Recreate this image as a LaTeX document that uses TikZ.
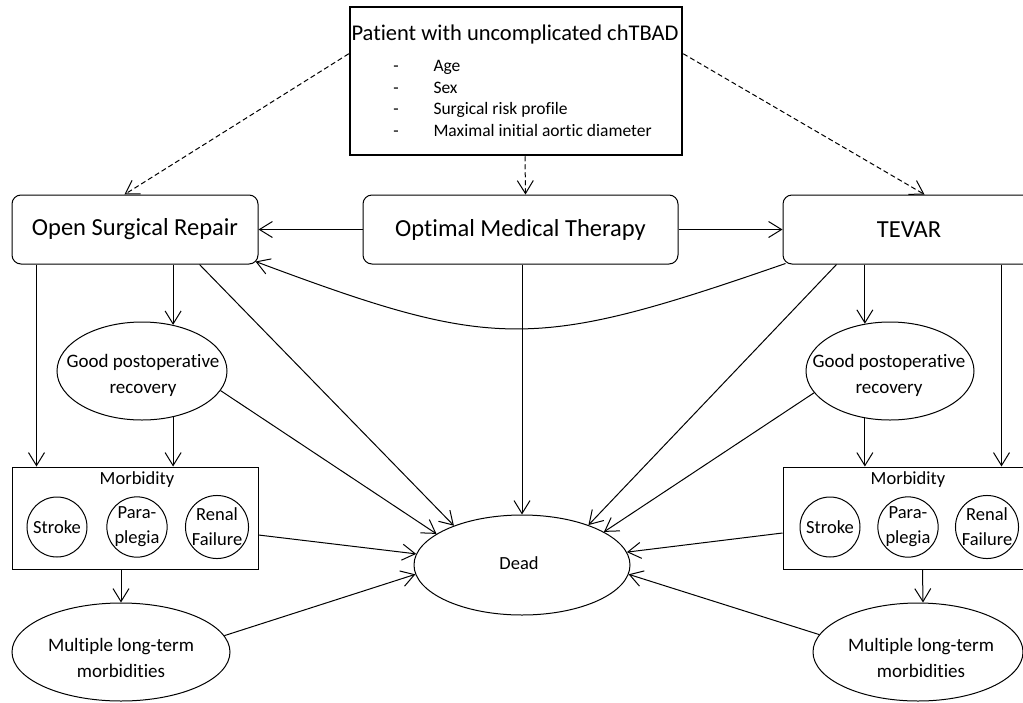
\documentclass[tikz,border=0pt]{standalone}
\usepackage{fontspec}
\setmainfont{Carlito}[Ligatures=NoCommon]
\usetikzlibrary{arrows.meta,shapes.geometric,calc}
\begin{document}
\begin{tikzpicture}[x=1pt,y=-1pt,line width=1pt,
  arr/.style={-{Straight Barb[length=13pt,width=16pt]}},
  dsh/.style={arr,dash pattern=on 5pt off 3pt},
  rbox/.style={draw,rounded corners=9pt,minimum height=69pt,inner sep=0pt,font=\fontsize{24.5}{28}\selectfont},
  sqbox/.style={draw,rectangle,minimum height=102pt,inner sep=0pt},
  ell/.style={draw,ellipse,inner sep=0pt},
  circ/.style={draw,circle,minimum size=60pt,inner sep=0pt,align=center,font=\fontsize{18.5}{25}\selectfont},
  smalltxt/.style={inner sep=0pt,align=center,font=\fontsize{18.5}{26}\selectfont},
  itemtxt/.style={inner sep=0pt,anchor=base west,font=\fontsize{17.5}{20}\selectfont},
  dashtxt/.style={inner sep=0pt,anchor=base,font=\fontsize{17.5}{20}\selectfont}]
\useasboundingbox (0,0) rectangle (1023,702);
\fill[white] (0,0) rectangle (1023,702);
\clip (0,0) rectangle (1023,702);

% top box
\node[draw,line width=2.5pt,minimum width=332pt,minimum height=148pt,inner sep=0pt] (top) at (516,81) {};
\node[inner sep=0pt,font=\fontsize{22.5}{26}\selectfont] (title) at (515,34) {Patient with uncomplicated chTBAD};
\node[dashtxt] (d1) at (396,71) {-};
\node[dashtxt] (d2) at (396,93) {-};
\node[dashtxt] (d3) at (396,114) {-};
\node[dashtxt] (d4) at (396,136) {-};
\node[itemtxt] (i1) at (433,71) {Age};
\node[itemtxt] (i2) at (433,93) {Sex};
\node[itemtxt] (i3) at (433,114) {Surgical risk profile};
\node[itemtxt] (i4) at (433,136) {Maximal initial aortic diameter};

% treatment boxes
\node[rbox,minimum width=246pt] (osr) at (135,229.5) {Open Surgical Repair};
\node[rbox,minimum width=315pt] (omt) at (520.5,229.5) {Optimal Medical Therapy};
\node[rbox,minimum width=252pt] (tevar) at (909,229.5) {TEVAR};

% good postoperative recovery
\node[ell,minimum width=170pt,minimum height=98pt] (gl) at (142,371) {};
\node[smalltxt,font=\fontsize{19}{26}\selectfont] (glt) at (143,375) {Good postoperative\\recovery};
\node[ell,minimum width=168pt,minimum height=98pt] (gr) at (890,371) {};
\node[smalltxt,font=\fontsize{19}{26}\selectfont] (grt) at (889,375) {Good postoperative\\recovery};

% morbidity boxes
\node[sqbox,minimum width=246pt] (ml) at (135,518) {};
\node[smalltxt] (mlt) at (137,480) {Morbidity};
\node[circ] (sl) at (57,527) {Stroke};
\node[circ] (pl) at (137,527) {Para-\\plegia};
\node[circ] (rl) at (217,527) {Renal\\Failure};
\node[sqbox,minimum width=250pt] (mr) at (908,518) {};
\node[smalltxt] (mrt) at (908,480) {Morbidity};
\node[circ] (sr) at (830,527) {Stroke};
\node[circ] (pr) at (908,527) {Para-\\plegia};
\node[circ] (rr) at (987,527) {Renal\\Failure};

% multiple long-term morbidities
\node[ell,minimum width=218pt,minimum height=98pt] (ul) at (121,652) {};
\node[smalltxt,font=\fontsize{19}{26}\selectfont] (ult) at (121,658) {Multiple long-term\\morbidities};
\node[ell,minimum width=210pt,minimum height=98pt] (ur) at (918,652) {};
\node[smalltxt,font=\fontsize{19}{26}\selectfont] (urt) at (921,658) {Multiple long-term\\morbidities};

% dead
\node[ell,minimum width=216pt,minimum height=100pt] (dead) at (522,565) {};
\node[smalltxt] (deadt) at (519,563) {Dead};

% dashed arrows from top
\draw[dsh] ($(top.north west)+(0,48)$) -- ($(osr.north west)+(113,0)$);
\draw[dsh] ($(top.south)+(9,0)$) -- ($(omt.north)+(5,0)$);
\draw[dsh] ($(top.north east)+(0,48)$) -- ($(tevar.north west)+(142,0)$);

% from OMT
\draw[arr] (omt.west) -- (osr.east);
\draw[arr] (omt.east) -- (tevar.east -| tevar.west);
\draw[arr] (dead.north |- omt.south) -- (dead.north);

% TEVAR back to OSR
\draw[arr] ($(tevar.south west)+(3,-1)$) .. controls (533,351) and (495,351) .. ($(osr.south east)+(-3,-3)$);

% left side
\draw[arr] ($(osr.south west)+(25,0)$) -- ($(ml.north west)+(25,0)$);
\draw[arr] (gl.56 |- osr.south) -- (gl.56);
\draw[arr] (gl.-56) -- (gl.-56 |- ml.north);
\draw[arr] ($(osr.south west)+(188,0)$) -- (dead.150);
\draw[arr] (gl.-14) -- (dead.160);
\draw[arr] ($(ml.east)+(0,17)$) -- (dead.174);
\draw[arr] (ul.north |- ml.south) -- (ul.north);
\draw[arr] (ul.9) -- (dead.185);

% right side
\draw[arr] (gr.118 |- tevar.south) -- (gr.118);
\draw[arr] ($(tevar.south west)+(219,0)$) -- ($(mr.north west)+(219,0)$);
\draw[arr] (gr.-118) -- (gr.-118 |- mr.north);
\draw[arr] ($(tevar.south west)+(54,0)$) -- (dead.31);
\draw[arr] (gr.196) -- (dead.22);
\draw[arr] ($(mr.west)+(0,15)$) -- (dead.7);
\draw[arr] ($(mr.south west)+(140,0)$) -- (ur.north -| 923,0);
\draw[arr] (ur.170) -- (dead.-5);
\end{tikzpicture}
\end{document}
